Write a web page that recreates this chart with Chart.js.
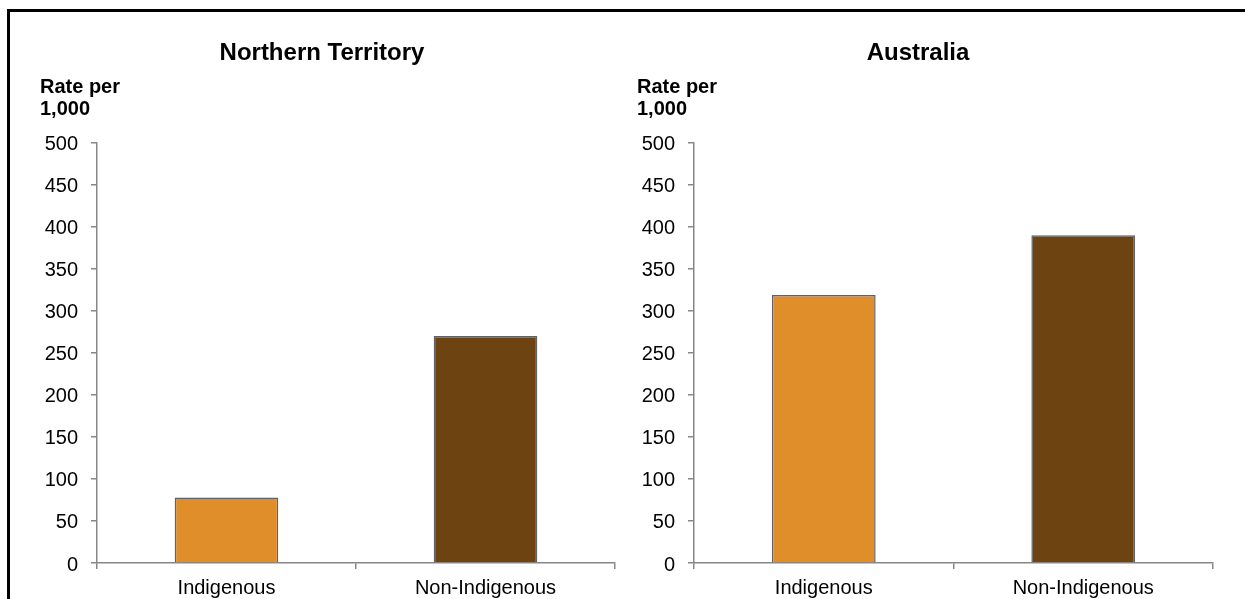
<!DOCTYPE html>
<html>
<head>
<meta charset="utf-8">
<script src="https://cdn.jsdelivr.net/npm/chart.js@4"></script>
<style>
  body { margin: 0; background: #fff; width: 1245px; height: 599px; overflow: hidden; position: relative; }
  #frame { position: absolute; left: 7px; top: 9px; width: 1300px; height: 700px; border-left: 3px solid #000; border-top: 3px solid #000; }
  canvas { position: absolute; }
  #chartNT { left: 10px; top: 12px; }
  #chartAU { left: 620px; top: 12px; }
</style>
</head>
<body>
<div id="frame"></div>
<canvas id="chartNT" width="624" height="587"></canvas>
<canvas id="chartAU" width="596" height="587"></canvas>
<script>
// Dữ liệu
const categories = ['Indigenous', 'Non-Indigenous'];
const ntValues = [78, 270];
const auValues = [319, 390];
const yTicks = [0, 50, 100, 150, 200, 250, 300, 350, 400, 450, 500];
const yLabel = ['Rate per', '1,000'];

const barColors = ['#E08E29', '#6D4411'];
const axisColor = '#878787';
const FONT = "'Liberation Sans', Arial, sans-serif";

Chart.defaults.font.family = FONT;
Chart.defaults.color = '#000';

// Vẽ nhãn "Rate per 1,000" phía trên trục y
const yLabelPlugin = {
  id: 'yLabel',
  afterDraw(chart) {
    const ctx = chart.ctx;
    const a = chart.chartArea;
    ctx.save();
    ctx.font = 'bold 20px ' + FONT;
    ctx.fillStyle = '#000';
    ctx.textAlign = 'left';
    ctx.textBaseline = 'alphabetic';
    ctx.fillText(yLabel[0], a.left - 57, a.top - 50);
    ctx.fillText(yLabel[1], a.left - 57, a.top - 28);
    ctx.restore();
  }
};

function makeChart(id, title, values, pad, yWidth) {
  return new Chart(document.getElementById(id), {
    type: 'bar',
    data: {
      labels: categories,
      datasets: [{
        data: values,
        backgroundColor: barColors,
        borderColor: '#626262',
        borderWidth: 1.5,
        barPercentage: 0.4,
        categoryPercentage: 1
      }]
    },
    options: {
      responsive: false,
      animation: false,
      layout: { padding: { left: pad.left, right: pad.right, top: 0, bottom: 0 } },
      plugins: {
        legend: { display: false },
        tooltip: { enabled: false },
        title: {
          display: true,
          text: title,
          color: '#000',
          font: { size: 24, weight: 'bold', family: FONT },
          padding: { top: 27, bottom: 75 }
        }
      },
      scales: {
        x: {
          grid: { display: true, drawOnChartArea: false, offset: true, tickLength: 6, color: axisColor, lineWidth: 1.5 },
          border: { display: true, color: axisColor, width: 1.5 },
          ticks: { font: { size: 20 }, padding: 7, color: '#000' },
          afterFit: s => { s.height = 36; }
        },
        y: {
          min: 0,
          max: 500,
          afterBuildTicks: s => { s.ticks = yTicks.map(v => ({ value: v })); },
          grid: { display: true, drawOnChartArea: false, tickLength: 6, color: axisColor, lineWidth: 1.5 },
          border: { display: true, color: axisColor, width: 1.5 },
          ticks: { font: { size: 20 }, padding: 13, labelOffset: 2, color: '#000' },
          afterFit: s => { s.width = yWidth; }
        }
      }
    },
    plugins: [yLabelPlugin]
  });
}

makeChart('chartNT', 'Northern Territory', ntValues, { left: 19, right: 19 }, 68);
makeChart('chartAU', 'Australia', auValues, { left: 3, right: 3 }, 71);
</script>
</body>
</html>
